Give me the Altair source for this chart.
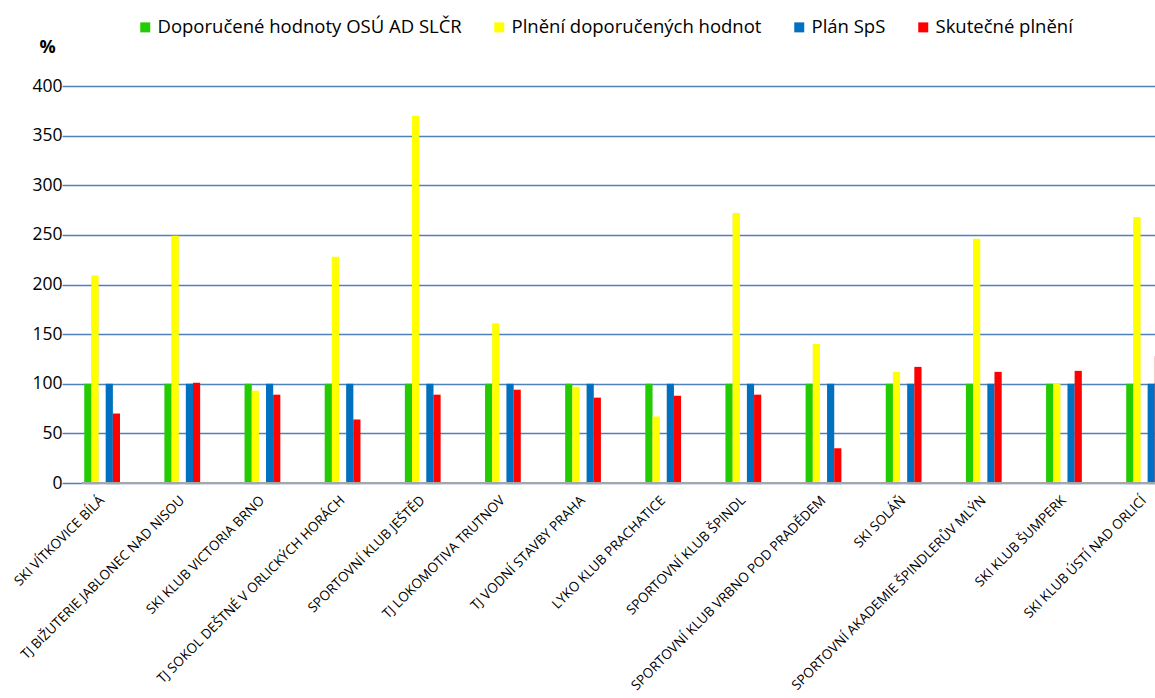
import altair as alt
import pandas as pd

categories = [
    "SKI VÍTKOVICE BÍLÁ",
    "TJ BIŽUTERIE JABLONEC NAD NISOU",
    "SKI KLUB VICTORIA BRNO",
    "TJ SOKOL DEŠTNÉ V ORLICKÝCH HORÁCH",
    "SPORTOVNÍ KLUB JEŠTĚD",
    "TJ LOKOMOTIVA TRUTNOV",
    "TJ VODNÍ STAVBY PRAHA",
    "LYKO KLUB PRACHATICE",
    "SPORTOVNÍ KLUB ŠPINDL",
    "SPORTOVNÍ KLUB VRBNO POD PRADĚDEM",
    "SKI SOLÁŇ",
    "SPORTOVNÍ AKADEMIE ŠPINDLERŮV MLÝN",
    "SKI KLUB ŠUMPERK",
    "SKI KLUB ÚSTÍ NAD ORLICÍ",
]
series = [
    "Doporučené hodnoty OSÚ AD SLČR",
    "Plnění doporučených hodnot",
    "Plán SpS",
    "Skutečné plnění",
]
doporucene = [100, 100, 100, 100, 100, 100, 100, 100, 100, 100, 100, 100, 100, 100]
plneni = [209, 249, 93, 228, 370, 161, 97, 67, 272, 140, 112, 246, 100, 268]
plan_sps = [100, 100, 100, 100, 100, 100, 100, 100, 100, 100, 100, 100, 100, 100]
skutecne = [70, 101, 89, 64, 89, 94, 86, 88, 89, 35, 117, 112, 113, 128]
y_ticks = [0, 50, 100, 150, 200, 250, 300, 350, 400]
colors = ["#22CC00", "#FFFF00", "#0070C0", "#FF0000"]

rows = []
for i, c in enumerate(categories):
    for s, vals in zip(series, [doporucene, plneni, plan_sps, skutecne]):
        rows.append({"klub": c, "rada": s, "hodnota": vals[i]})
df = pd.DataFrame(rows)

slots = [series[0], series[1], "mezera", series[2], series[3]]

W = 1073
H = 397
n = len(categories)
step = 80.15
x0 = 102.15 - 82 - step / 2
half_cluster = 17.85

FONT = "Open Sans"

x_enc = alt.X(
    "klub:N",
    sort=categories,
    scale=alt.Scale(domain=categories, range=[x0, x0 + step * n], paddingInner=0, paddingOuter=0),
    axis=alt.Axis(
        title=None,
        domain=False,
        ticks=False,
        grid=False,
        labelAngle=-45,
        labelAlign="right",
        labelBaseline="middle",
        labelPadding=15,
        labelFontSize=13.5,
        labelFont=FONT,
        labelColor="#000000",
        labelLimit=400,
    ),
)
xoff_enc = alt.XOffset(
    "rada:N",
    scale=alt.Scale(
        domain=slots,
        range=[step / 2 - half_cluster, step / 2 + half_cluster],
        paddingInner=0,
        paddingOuter=0,
    ),
)
y_enc = alt.Y(
    "hodnota:Q",
    scale=alt.Scale(domain=[0, 400]),
    axis=alt.Axis(
        values=y_ticks,
        title="%",
        titleAngle=0,
        titleX=-35,
        titleY=-39,
        titleAlign="center",
        titleBaseline="middle",
        titleFont=FONT,
        titleFontSize=18,
        titleFontWeight="bold",
        titleColor="#000000",
        domain=False,
        ticks=False,
        labelPadding=20,
        labelFontSize=17.5,
        labelFont=FONT,
        labelColor="#000000",
        gridColor="#4F81BD",
        gridWidth=1.6,
    ),
)

shadow = alt.Chart(df).mark_bar(color="#9A9A9A", opacity=0.35, xOffset=2, yOffset=1.5).encode(
    x=x_enc, xOffset=xoff_enc, y=y_enc
)

bars = alt.Chart(df).mark_bar().encode(
    x=x_enc,
    xOffset=xoff_enc,
    y=y_enc,
    color=alt.Color(
        "rada:N",
        scale=alt.Scale(domain=series, range=colors),
        legend=alt.Legend(
            title=None,
            orient="none",
            legendX=54,
            legendY=-68,
            direction="horizontal",
            columns=4,
            symbolType="square",
            symbolSize=100,
            symbolStrokeWidth=0,
            labelFont=FONT,
            labelFontSize=18.5,
            labelColor="#000000",
            labelOffset=3,
            columnPadding=28,
            labelLimit=500,
        ),
    ),
)

baseline = alt.Chart(pd.DataFrame({"a": [0]})).mark_rule(color="#A6A6A6", strokeWidth=2).encode(
    y=alt.value(H), x=alt.value(0), x2=alt.value(W)
)

chart = (
    alt.layer(shadow, bars, baseline)
    .properties(
        width=W,
        height=H,
        padding={"left": 82, "top": 86, "right": 0, "bottom": 215},
        autosize=alt.AutoSizeParams(type="none"),
        background="white",
    )
    .configure_view(stroke=None)
)

chart.save("out.html", embed_options={"renderer": "svg", "actions": False})
